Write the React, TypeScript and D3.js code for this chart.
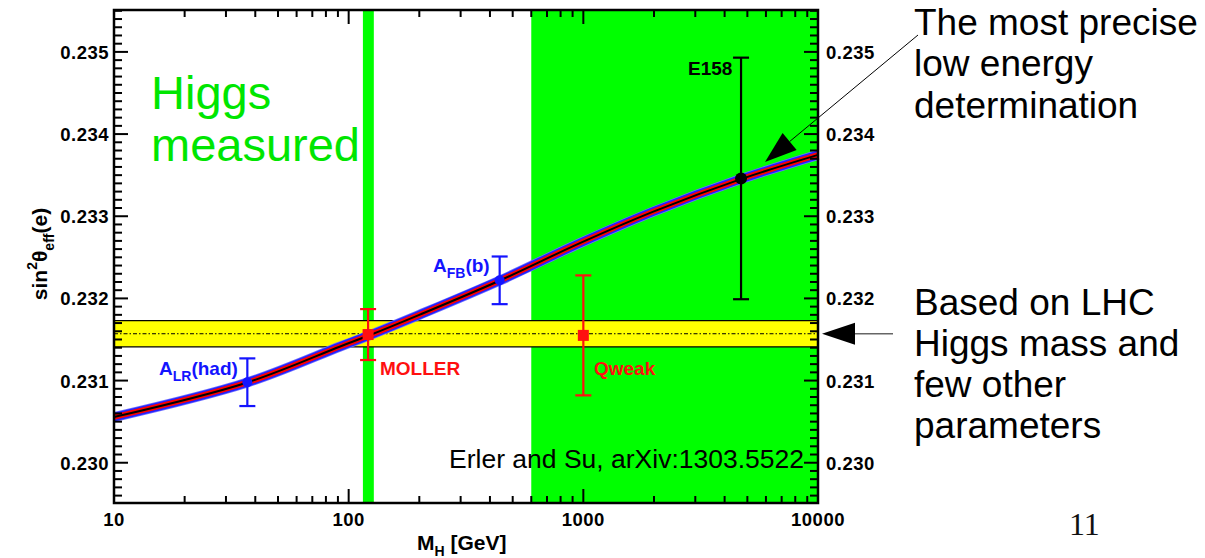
import React from "react";
import * as d3 from "d3";

// Theory curve: sin^2(theta_eff) for electrons versus Higgs mass
const theoryMass = [10, 37, 92, 121, 200, 441, 967, 2000, 4726, 10000];
const theorySin2 = [0.230556, 0.230977, 0.231415, 0.231545, 0.2318, 0.232218, 0.232673, 0.23306, 0.233455, 0.233747];

// Measurements / projections
const pointNames = ["A_LR(had)", "MOLLER", "A_FB(b)", "Qweak", "E158"];
const pointMass = [37, 121, 440, 1000, 4700];
const pointSin2 = [0.23098, 0.23156, 0.23222, 0.23155, 0.23346];
const pointErr = [0.00029, 0.00031, 0.00029, 0.00073, 0.00147];
const pointColor = ["#1414ff", "#ff1010", "#1414ff", "#ff1010", "#000000"];
const pointShape = ["circle", "square", "circle", "square", "circle"];

// LHC-based band
const bandCenter = 0.23157;
const bandLow = 0.23141;
const bandHigh = 0.23173;

// Mass ranges shaded green
const higgsMassRange = [115, 128];
const excludedRange = [600, 10000];

const xTickLabels = ["10", "100", "1000", "10000"];
const yTickLabels = ["0.230", "0.231", "0.232", "0.233", "0.234", "0.235"];

const W = 1205;
const H = 558;
const L = 114, R = 818, T = 10, B = 503;
const FONT = "'Liberation Sans', Arial, Helvetica, sans-serif";

export default function App() {
  const x = d3.scaleLog().domain([10, 10000]).range([L, R]);
  const y = d3.scaleLinear().domain([0.22951, 0.23551]).range([B, T]);

  const line = d3
    .line<number>()
    .x((_, i) => x(theoryMass[i]))
    .y((d) => y(d))
    .curve(d3.curveCatmullRom.alpha(0.5));
  const theoryPath = line(theorySin2) || "";

  // x ticks: majors at decades, minors at 2..9
  const xMajor = xTickLabels.map((t) => +t);
  const xMinor: number[] = [];
  for (let dec = 10; dec < 10000; dec *= 10) {
    for (let k = 2; k <= 9; k++) xMinor.push(dec * k);
  }
  const yMajor = yTickLabels.map((t) => +t);
  const yMinor = d3.range(2296, 2356).map((v) => v / 10000).filter((v) => !yMajor.some((m) => Math.abs(m - v) < 1e-9));

  const tickLabelStyle = { fontFamily: FONT, fontWeight: 700, fontSize: 18.5, letterSpacing: 0.5 } as const;
  const labelStyle = { fontFamily: FONT, fontWeight: 700, fontSize: 19 } as const;

  // Arrow towards E158
  const a1Start = [918, 35];
  const a1Tip = [765, 162];
  const dx = a1Tip[0] - a1Start[0];
  const dy = a1Tip[1] - a1Start[1];
  const len = Math.hypot(dx, dy);
  const ux = dx / len, uy = dy / len;
  const headLen = 32, headHalf = 11;
  const baseX = a1Tip[0] - ux * headLen, baseY = a1Tip[1] - uy * headLen;
  const head1 = [
    [a1Tip[0], a1Tip[1]],
    [baseX - uy * headHalf, baseY + ux * headHalf],
    [baseX + uy * headHalf, baseY - ux * headHalf],
  ];

  const a2Y = y(bandCenter);

  return (
    <svg width={W} height={H} style={{ position: "absolute", left: 0, top: 0, background: "#fff" }}>
      <rect x={0} y={0} width={W} height={H} fill="#fff" />

      {/* green mass regions */}
      <rect x={x(excludedRange[0])} y={T} width={x(excludedRange[1]) - x(excludedRange[0])} height={B - T} fill="#00ff00" />
      <rect x={x(higgsMassRange[0])} y={T} width={x(higgsMassRange[1]) - x(higgsMassRange[0])} height={B - T} fill="#00ff00" />

      {/* yellow band */}
      <rect x={L} y={y(bandHigh)} width={R - L} height={y(bandLow) - y(bandHigh)} fill="#ffff00" />
      <line x1={L} x2={R} y1={y(bandHigh)} y2={y(bandHigh)} stroke="#000" strokeWidth={1.2} />
      <line x1={L} x2={R} y1={y(bandLow)} y2={y(bandLow)} stroke="#000" strokeWidth={1.2} />
      <line x1={L} x2={R} y1={y(bandCenter)} y2={y(bandCenter)} stroke="#000" strokeWidth={1} strokeDasharray="4,2,1.5,2" />

      {/* theory curve */}
      <path d={theoryPath} fill="none" stroke="#7070ff" strokeWidth={10} />
      <path d={theoryPath} fill="none" stroke="#2222ff" strokeWidth={8.5} />
      <path d={theoryPath} fill="none" stroke="#ff0000" strokeWidth={5.5} />
      <path d={theoryPath} fill="none" stroke="#000" strokeWidth={2} />

      {/* data points */}
      {pointNames.map((n, i) => {
        const cx = x(pointMass[i]);
        const cy = y(pointSin2[i]);
        const yt = y(pointSin2[i] + pointErr[i]);
        const yb = y(pointSin2[i] - pointErr[i]);
        const c = pointColor[i];
        const cap = 8;
        return (
          <g key={n}>
            <line x1={cx} x2={cx} y1={yt} y2={yb} stroke={c} strokeWidth={2.2} />
            <line x1={cx - cap} x2={cx + cap} y1={yt} y2={yt} stroke={c} strokeWidth={2.2} />
            <line x1={cx - cap} x2={cx + cap} y1={yb} y2={yb} stroke={c} strokeWidth={2.2} />
            {pointShape[i] === "square" ? (
              <rect x={cx - 5.5} y={cy - 5.5} width={11} height={11} fill={c} />
            ) : (
              <circle cx={cx} cy={cy} r={i === 4 ? 6 : 5} fill={c} />
            )}
          </g>
        );
      })}

      {/* point labels */}
      <text x={159} y={375} fill="#1414ff" style={labelStyle}>
        A<tspan fontSize={14} dy={6}>LR</tspan>
        <tspan dy={-6}>(had)</tspan>
      </text>
      <text x={433} y={272} fill="#1414ff" style={labelStyle}>
        A<tspan fontSize={14} dy={6}>FB</tspan>
        <tspan dy={-6}>(b)</tspan>
      </text>
      <text x={380} y={375} fill="#ff1010" style={labelStyle}>MOLLER</text>
      <text x={594} y={375} fill="#ff1010" style={labelStyle}>Qweak</text>
      <text x={688} y={75} fill="#000" style={labelStyle}>E158</text>

      {/* frame */}
      <rect x={L} y={T} width={R - L} height={B - T} fill="none" stroke="#000" strokeWidth={2.5} />

      {/* x ticks bottom and top */}
      {xMajor.map((v) => (
        <g key={"xM" + v}>
          <line x1={x(v)} x2={x(v)} y1={B} y2={B - 14} stroke="#000" strokeWidth={2} />
          <line x1={x(v)} x2={x(v)} y1={T} y2={T + 14} stroke="#000" strokeWidth={2} />
        </g>
      ))}
      {xMinor.map((v) => (
        <g key={"xm" + v}>
          <line x1={x(v)} x2={x(v)} y1={B} y2={B - 7} stroke="#000" strokeWidth={2} />
          <line x1={x(v)} x2={x(v)} y1={T} y2={T + 7} stroke="#000" strokeWidth={2} />
        </g>
      ))}
      {xTickLabels.map((t) => (
        <text key={"xl" + t} x={x(+t)} y={526} textAnchor="middle" style={tickLabelStyle}>{t}</text>
      ))}

      {/* y ticks left and right */}
      {yMajor.map((v) => (
        <g key={"yM" + v}>
          <line x1={L} x2={L + 14} y1={y(v)} y2={y(v)} stroke="#000" strokeWidth={2} />
          <line x1={R} x2={R - 14} y1={y(v)} y2={y(v)} stroke="#000" strokeWidth={2} />
        </g>
      ))}
      {yMinor.map((v) => (
        <g key={"ym" + v}>
          <line x1={L} x2={L + 8} y1={y(v)} y2={y(v)} stroke="#000" strokeWidth={2} />
          <line x1={R} x2={R - 8} y1={y(v)} y2={y(v)} stroke="#000" strokeWidth={2} />
        </g>
      ))}
      {yTickLabels.map((t) => (
        <g key={"yl" + t}>
          <text x={109} y={y(+t) + 7} textAnchor="end" style={tickLabelStyle}>{t}</text>
          <text x={826} y={y(+t) + 7} textAnchor="start" style={tickLabelStyle}>{t}</text>
        </g>
      ))}

      {/* axis titles */}
      <text transform="translate(47,254) rotate(-90)" textAnchor="middle" style={{ ...labelStyle, fontSize: 21 }}>
        sin<tspan fontSize={14} dy={-10}>2</tspan>
        <tspan dy={10}>θ</tspan>
        <tspan fontSize={14} dy={7}>eff</tspan>
        <tspan dy={-7}>(e)</tspan>
      </text>
      <text x={417} y={550} style={{ ...labelStyle, fontSize: 21 }}>
        M<tspan fontSize={14} dy={6}>H</tspan>
        <tspan dy={-6}> [GeV]</tspan>
      </text>

      {/* in-plot annotations */}
      <text x={151} y={109} fill="#00e600" style={{ fontFamily: FONT, fontSize: 47 }}>Higgs</text>
      <text x={151} y={161} fill="#00e600" style={{ fontFamily: FONT, fontSize: 47 }}>measured</text>
      <text x={449} y={468} fill="#000" style={{ fontFamily: FONT, fontSize: 26.5 }}>Erler and Su, arXiv:1303.5522</text>

      {/* side annotations */}
      <line x1={a1Start[0]} y1={a1Start[1]} x2={baseX} y2={baseY} stroke="#000" strokeWidth={1} />
      <polygon points={head1.map((p) => p.join(",")).join(" ")} fill="#000" />
      <line x1={893} x2={855} y1={a2Y} y2={a2Y} stroke="#666" strokeWidth={1.5} />
      <polygon points={`822,${a2Y} 855,${a2Y - 11} 855,${a2Y + 11}`} fill="#000" />

      <g style={{ fontFamily: FONT, fontSize: 37 }} fill="#000">
        <text x={914} y={35}>The most precise</text>
        <text x={914} y={76}>low energy</text>
        <text x={914} y={118}>determination</text>
        <text x={914} y={315}>Based on LHC</text>
        <text x={914} y={356}>Higgs mass and</text>
        <text x={914} y={397}>few other</text>
        <text x={914} y={438}>parameters</text>
      </g>
      <text x={1069} y={535} style={{ fontFamily: "'Liberation Serif', 'Times New Roman', serif", fontSize: 32 }} fill="#111">11</text>
    </svg>
  );
}
